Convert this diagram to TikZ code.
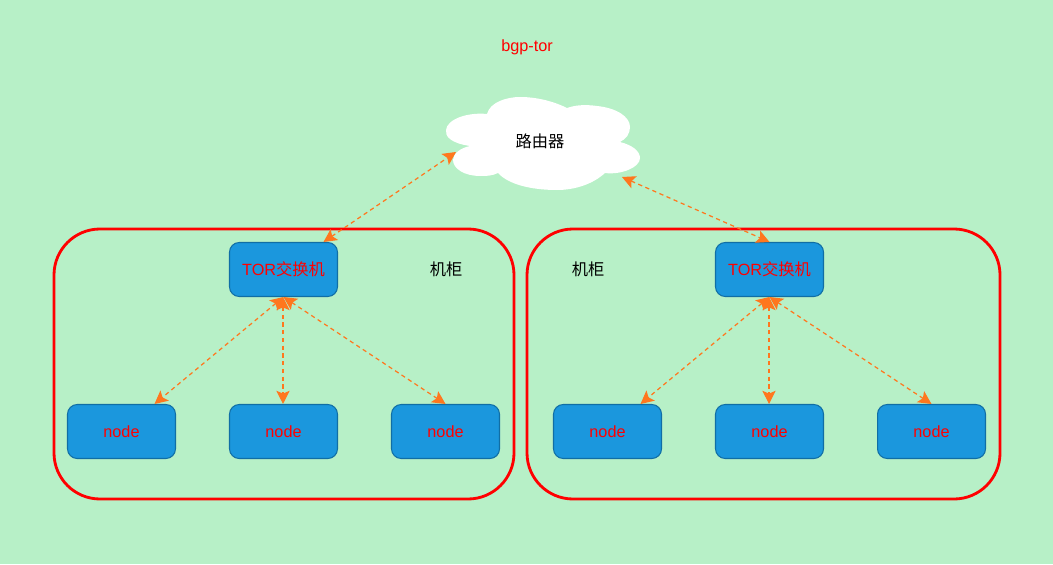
\documentclass[tikz,border=0pt]{standalone}
\usepackage{fontspec}
\setmainfont{Liberation Sans}
\newfontfamily\cjk{Noto Sans CJK SC}
\definecolor{BgColor}{RGB}{183,240,199}
\definecolor{NodeColor}{RGB}{27,151,221}
\definecolor{NodeEdge}{RGB}{16,110,165}
\definecolor{LinkColor}{RGB}{255,119,30}
\usetikzlibrary{positioning, arrows.meta}
\tikzset{
  box/.style={draw=NodeEdge, fill=NodeColor, rounded corners=5.5pt, line width=0.6pt, minimum width=2.16cm, minimum height=1.08cm, inner sep=0pt, text=red, font=\fontsize{9.25}{11}\selectfont},
  rack/.style={draw=red, line width=1.6pt, rounded corners=0.92cm},
  link/.style={{Stealth[length=7.5pt,width=7.5pt,inset=1.6pt]}-{Stealth[length=7.5pt,width=7.5pt,inset=1.6pt]}, LinkColor, line width=0.7pt, dash pattern=on 2.4pt off 2pt},
  word/.style={font=\fontsize{9.25}{11}\selectfont, inner sep=0pt}
}
\begin{document}
\begin{tikzpicture}[x=0.02cm, y=-0.02cm]
    \useasboundingbox (0,0) rectangle (1053,564);
    \fill[BgColor] (0,0) rectangle (1053,564);
    % Title
    \node[word, text=red] (title) at (527,47.5) {bgp-tor};
    % Cloud
    \fill[white] (470,146) .. controls (450,143) and (445,136) .. (446,130)
        .. controls (447,119) and (468,112) .. (487,114)
        .. controls (490,102) and (507,97) .. (520,97)
        .. controls (540,97) and (557,103) .. (567,108)
        .. controls (578,104) and (590,105) .. (597,106)
        .. controls (617,108) and (630,117) .. (630,127)
        .. controls (630,134) and (626,139) .. (620,142)
        .. controls (632,145) and (640,151) .. (640,158)
        .. controls (640,168) and (620,175) .. (605,173)
        .. controls (593,184) and (575,190) .. (557,190)
        .. controls (530,190) and (508,184) .. (498,173)
        .. controls (492,176) and (486,176) .. (480,176)
        .. controls (465,176) and (453,169) .. (453,160)
        .. controls (453,154) and (460,148) .. (470,146) -- cycle;
    \node[word] (router) at (540,141) {\cjk 路由器};
    \coordinate (routerL) at (456,152);
    \coordinate (routerR) at (622,177);
    % Racks
    \draw[rack] (54,229) rectangle (514,499);
    \draw[rack] (527,229) rectangle (1000,499);
    \node[word] (rackL) at (446,269) {\cjk 机柜};
    \node[word] (rackR) at (588,269) {\cjk 机柜};
    % Switches
    \node[box] (torL) at (283.5,269.5) {TOR{\cjk 交换机}};
    \node[box] (torR) at (769.5,269.5) {TOR{\cjk 交换机}};
    % Hosts
    \node[box] (nodeA) at (121.5,431.5) {node};
    \node[box] (nodeB) at (283.5,431.5) {node};
    \node[box] (nodeC) at (445.5,431.5) {node};
    \node[box] (nodeD) at (607.5,431.5) {node};
    \node[box] (nodeE) at (769.5,431.5) {node};
    \node[box] (nodeF) at (931.5,431.5) {node};
    % Uplinks
    \draw[link] ([xshift=0.8cm]torL.north) -- (routerL);
    \draw[link] (routerR) -- (torR.north);
    % Downlinks
    \foreach \a/\b/\s in {torL/nodeA/0.66cm, torL/nodeC/0cm, torR/nodeD/0.66cm, torR/nodeF/0cm} {
        \draw[link] (\a.south) -- ([xshift=\s]\b.north);
    }
    \draw[link] ([xshift=-0.01cm]torL.south) -- ([xshift=-0.01cm]nodeB.north);
    \draw[link] ([xshift=-0.01cm]torR.south) -- ([xshift=-0.01cm]nodeE.north);
\end{tikzpicture}
\end{document}
